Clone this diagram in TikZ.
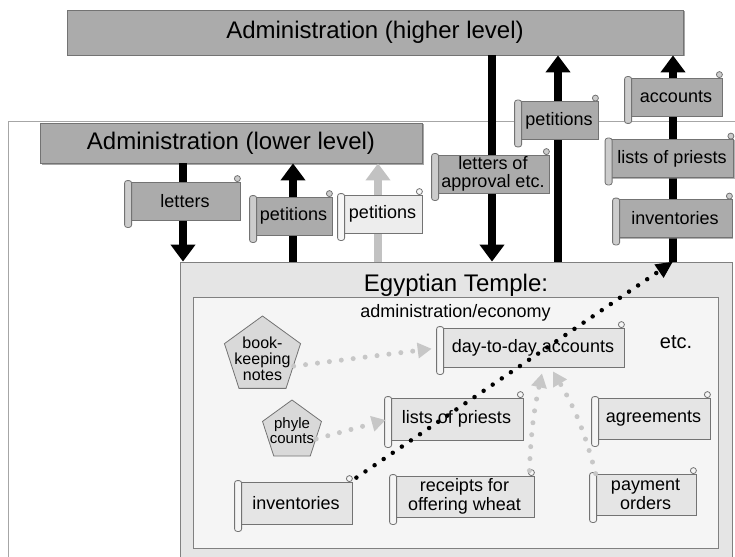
\documentclass[tikz,border=0pt]{standalone}
\usepackage{fontspec}
\setmainfont{Liberation Sans}
\usetikzlibrary{arrows.meta,shapes.geometric,shadows}

\tikzset{
  bigbox/.style={draw=black!55, fill=black!33, line width=0.8pt,
    drop shadow={shadow xshift=1.5pt, shadow yshift=-1.5pt, opacity=.7},
    font=\fontsize{24}{24}\selectfont},
  scroll/.style={draw=black!55, fill=#1, line width=0.8pt, inner sep=1pt,
    minimum height=38pt, align=center, font=\fontsize{18}{18.5}\selectfont,
    drop shadow={shadow xshift=1pt, shadow yshift=-1pt, opacity=.6}},
  scroll/.default=black!33,
  flow/.style={line width=8pt, -{Triangle[length=17pt,width=24pt]}},
  dots/.style={draw=black!22, line width=5pt, line cap=round,
    dash pattern=on 0pt off 12pt, -{Triangle[length=14pt,width=15pt]}},
  blackdots/.style={draw=black, line width=4.5pt, line cap=round,
    dash pattern=on 0pt off 11pt, -{Triangle[length=17pt,width=15pt]}},
  note/.style={regular polygon, regular polygon sides=5, draw=black!55,
    fill=black!15, line width=0.8pt, inner sep=0pt},
  notetext/.style={align=center, inner sep=0pt, font=\fontsize{16}{16}\selectfont}
}

% rolled left edge and curled top corner of a scroll
\newcommand{\scrollends}[2]{%
  \draw[draw=black!55, line width=0.8pt, fill=#2, rounded corners=2.5pt]
    ([xshift=-5pt,yshift=1pt]#1.north west) rectangle ([xshift=2pt,yshift=-7pt]#1.south west);
  \draw[draw=black!55, line width=0.8pt, fill=#2] ([xshift=-3pt,yshift=3pt]#1.north east) circle (3pt);
}

\begin{document}
\begin{tikzpicture}[x=1pt, y=-1pt]
\useasboundingbox (0,0) rectangle (735,556);

% frame of the lower level
\draw[black!35, line width=1pt] (740,122) -| (8,560);

% administrations and the temple
\node[bigbox, minimum width=616pt, minimum height=45pt] (higher) at (375,32.5) {Administration (higher level)};
\node[bigbox, minimum width=382pt, minimum height=40pt] (lower) at (231,143) {Administration (lower level)};
\node[draw=black!50, fill=black!10, line width=0.8pt, minimum width=552pt, minimum height=310pt,
  label={[anchor=north, inner sep=0pt, yshift=-12pt, font=\fontsize{24}{24}\selectfont]north:Egyptian Temple:}] (temple) at (456,417) {};
\node[draw=black!50, fill=black!4, line width=0.8pt, minimum width=525pt, minimum height=251pt,
  label={[anchor=north, inner sep=0pt, yshift=-8pt, font=\fontsize{18}{18}\selectfont]north:administration/economy}] (economy) at (455.5,422.5) {};

% columns of the big arrows
\coordinate (colA) at (183,0);
\coordinate (colB) at (293,0);
\coordinate (colC) at (378,0);
\coordinate (colD) at (492,0);
\coordinate (colE) at (558,0);
\coordinate (colF) at (673,0);

\draw[flow] (lower.south -| colA) -- (temple.north -| colA);
\draw[flow] (temple.north -| colB) -- (lower.south -| colB);
\draw[flow, black!24] (temple.north -| colC) -- (lower.south -| colC);
\draw[flow] (higher.south -| colD) -- (temple.north -| colD);
\draw[flow] (temple.north -| colE) -- (higher.south -| colE);
\draw[flow] (temple.north -| colF) -- (higher.south -| colF);

% documents sent up and down
\node[scroll, minimum width=110pt] (letters) at (185,201) {letters};
\node[scroll, minimum width=77pt] (petlow) at (293.5,216) {petitions};
\node[scroll=black!7, minimum width=79pt] (petlight) at (382.5,214) {petitions};
\node[scroll, minimum width=112pt] (approval) at (493,174) {letters of\\approval etc.};
\node[scroll, minimum width=78pt] (pethigh) at (559,120.5) {petitions};
\node[scroll, minimum width=92pt] (accounts) at (676,97) {accounts};
\node[scroll, minimum width=123pt] (priestsup) at (672,158.5) {lists of priests};
\node[scroll, minimum width=114pt] (invup) at (675,218.5) {inventories};

\foreach \s in {letters,petlow,approval,pethigh,accounts,priestsup,invup}
  {\scrollends{\s}{black!20}}
\scrollends{petlight}{black!3}

% inside the temple
\node[note, minimum size=80pt, label={[notetext, yshift=-3pt]center:book-\\keeping\\notes}] (book) at (262.5,356) {};
\node[note, minimum size=62pt, label={[notetext, font=\fontsize{15}{15}\selectfont]center:phyle\\counts}] (phyle) at (292,431) {};
\node[font=\fontsize{20}{20}\selectfont] (etc) at (676,342) {etc.};

\node[scroll=black!10, minimum width=182pt, minimum height=39pt] (day) at (533,347.5) {day-to-day accounts};
\node[scroll=black!10, minimum width=133pt, minimum height=42pt] (priests) at (456.5,419) {lists of priests};
\node[scroll=black!10, minimum width=113pt, minimum height=41pt] (agree) at (653.5,418.5) {agreements};
\node[scroll=black!10, minimum width=112pt, minimum height=42pt] (inv) at (296,503) {inventories};
\node[scroll=black!10, minimum width=139pt, minimum height=41pt] (receipts) at (464.5,496.5) {receipts for\\offering wheat};
\node[scroll=black!10, minimum width=101pt, minimum height=41pt] (orders) at (645.5,494.5) {payment\\orders};

\foreach \s in {day,priests,agree,inv,receipts,orders}
  {\scrollends{\s}{black!4}}

% what feeds the accounts
\draw[dots, shorten >=10pt] (book.side 4) -- (day.west);
\draw[dots, shorten >=4pt] (phyle.side 4) -- (priests.west);
\draw[dots] ([xshift=-5pt,yshift=5pt]receipts.north east) to[bend left=5] ([xshift=9pt,yshift=-6pt]day.south);
\draw[dots] ([xshift=1pt]orders.north west) to[bend right=8] ([xshift=20pt,yshift=-4pt]day.south);

% inventories reported upwards
\draw[blackdots] ([xshift=4pt,yshift=4pt]inv.north east) -- (temple.north -| colF);
\end{tikzpicture}
\end{document}
